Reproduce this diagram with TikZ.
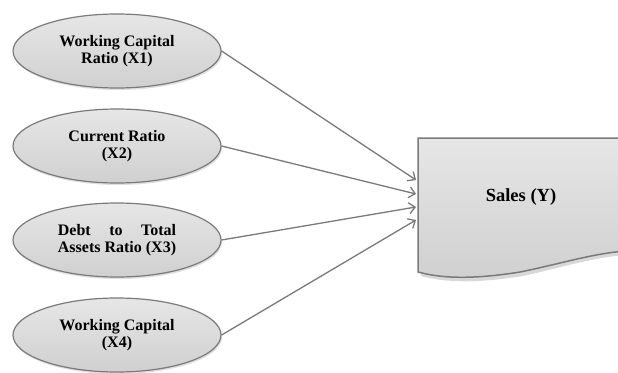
\documentclass[tikz,border=0pt]{standalone}
\usepackage{fontspec}
\usepackage{calc}
\setmainfont{Liberation Serif}
\usetikzlibrary{shapes.geometric,arrows.meta,shadows}
\definecolor{edgegray}{HTML}{7A7A7A}
\definecolor{fillA}{HTML}{E6E6E6}
\definecolor{fillB}{HTML}{D0D0D0}
\tikzset{
  factor/.style={ellipse, draw=edgegray, line width=1.2pt, top color=fillA, bottom color=fillB,
    minimum width=208pt, minimum height=74pt, inner sep=0pt, align=center,
    font=\bfseries\fontsize{16}{16.5}\selectfont,
    drop shadow={shadow xshift=1pt, shadow yshift=-2pt, opacity=0.25}},
  link/.style={draw=edgegray, line width=1.3pt, -{Straight Barb[length=6pt,width=11pt]}},
  boxlabel/.style={font=\bfseries\fontsize{18.5}{20}\selectfont}
}
\begin{document}
\begin{tikzpicture}[x=1pt,y=-1pt]
\useasboundingbox (0,0) rectangle (618,372);
\fill[white] (0,0) rectangle (618,372);
\clip (0,0) rectangle (618,372);
% Sales box (document shape)
\fill[gray, opacity=0.3] (421,141) -- (625,141) -- (625,255) .. controls (590,258) and (560,268) .. (523,276) .. controls (473,284) and (443,282) .. (421,276) -- cycle;
\shade[top color=fillA, bottom color=fillB] (418,138) -- (625,138) -- (625,251) .. controls (590,254) and (560,264) .. (520,272) .. controls (470,280) and (440,278) .. (418,272) -- cycle;
\draw[edgegray, line width=1.5pt] (625,138) -- (418,138) -- (418,272) .. controls (440,278) and (470,280) .. (520,272) .. controls (560,264) and (590,254) .. (625,251);
\node[boxlabel] (y) at (521,197) {Sales (Y)};
\coordinate (t1) at (416,180);
\coordinate (t2) at (416,194);
\coordinate (t3) at (416,207);
\coordinate (t4) at (416,220);
% factors
\node[factor] (x1) at (117,51) {Working Capital\\Ratio (X1)};
\node[factor] (x2) at (117,146) {Current Ratio\\(X2)};
\node[factor] (x3) at (117,240) {\makebox[\widthof{Assets Ratio (X3)}][s]{Debt\hfill to\hfill Total}\\Assets Ratio (X3)};
\node[factor] (x4) at (117,335) {Working Capital\\(X4)};
% links
\draw[link] (x1.east) -- (t1);
\draw[link] (x2.east) -- (t2);
\draw[link] (x3.east) -- (t3);
\draw[link] (x4.east) -- (t4);
\end{tikzpicture}
\end{document}
